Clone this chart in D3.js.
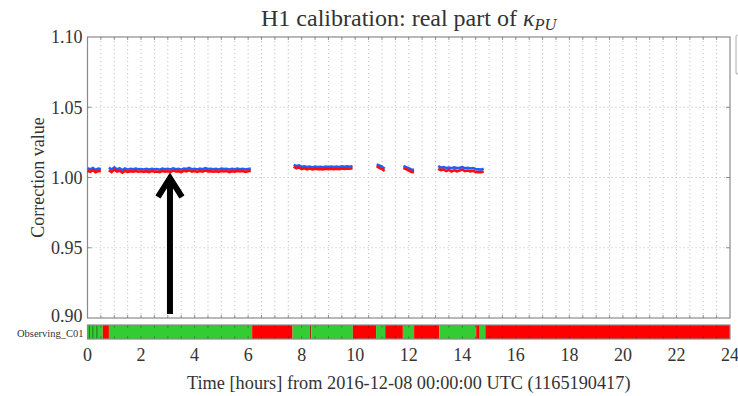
<!DOCTYPE html>
<html><head><meta charset="utf-8">
<script src="https://cdn.jsdelivr.net/npm/d3@7"></script>
<style>body{margin:0;background:#fff}svg{display:block}</style>
</head><body>
<svg id="c" width="738" height="396"></svg>
<script>
// ---- data ----
const xTicks = [0,2,4,6,8,10,12,14,16,18,20,22,24];
const yTicks = [0.90,0.95,1.00,1.05,1.10];
const yTickLabels = ["0.90","0.95","1.00","1.05","1.10"];
const sampleStep = 0.1; // hours between samples, starting at 0 h
const blueValues = [
 1.0066,1.0058,1.0068,1.0054,1.0064,1.0060, null,null,
 1.0070,1.0056,1.0072,1.0058,1.0066,1.0052,1.0064,1.0056,1.0062,1.0059,
 1.0063,1.0058,1.0060,1.0057,1.0061,1.0056,1.0062,1.0059,1.0060,1.0055,
 1.0063,1.0058,1.0061,1.0057,1.0065,1.0059,1.0062,1.0056,1.0064,1.0060,
 1.0068,1.0058,1.0062,1.0057,1.0063,1.0059,1.0066,1.0060,1.0062,1.0058,
 1.0061,1.0057,1.0063,1.0060,1.0062,1.0056,1.0061,1.0058,1.0064,1.0059,
 1.0062,1.0057,1.0060,1.0063,
 null,null,null,null,null,null,null,null,null,null,null,null,null,null,null,
 1.0090,1.0082,1.0086,1.0076,1.0080,1.0074,1.0078,1.0072,1.0077,1.0074,1.0076,1.0073,
 1.0077,1.0075,1.0078,1.0074,1.0077,1.0075,1.0079,1.0076,1.0080,1.0077,1.0081,
 null,null,null,null,null,null,null,null,
 1.0092,1.0085,1.0078,1.0062,
 null,null,null,null,null,null,
 1.0082,1.0074,1.0066,1.0056,1.0054,
 null,null,null,null,null,null,null,null,
 1.0082,1.0070,1.0074,1.0068,1.0071,1.0066,1.0072,1.0067,1.0070,1.0074,1.0066,1.0069,
 1.0064,1.0067,1.0060,1.0058,1.0056,1.0062
];
const redValues = [
 1.0048,1.0040,1.0052,1.0038,1.0046,1.0044, null,null,
 1.0052,1.0038,1.0056,1.0042,1.0048,1.0034,1.0047,1.0040,1.0045,1.0042,
 1.0046,1.0041,1.0044,1.0040,1.0045,1.0039,1.0046,1.0042,1.0043,1.0038,
 1.0047,1.0042,1.0044,1.0040,1.0049,1.0043,1.0045,1.0039,1.0048,1.0044,
 1.0051,1.0042,1.0046,1.0040,1.0047,1.0042,1.0049,1.0044,1.0045,1.0041,
 1.0045,1.0040,1.0047,1.0043,1.0046,1.0039,1.0045,1.0042,1.0047,1.0043,
 1.0046,1.0040,1.0044,1.0047,
 null,null,null,null,null,null,null,null,null,null,null,null,null,null,null,
 1.0077,1.0066,1.0072,1.0060,1.0066,1.0058,1.0064,1.0057,1.0062,1.0059,1.0061,1.0058,
 1.0062,1.0060,1.0063,1.0059,1.0062,1.0060,1.0064,1.0061,1.0065,1.0062,1.0066,
 null,null,null,null,null,null,null,null,
 1.0080,1.0068,1.0060,1.0046,
 null,null,null,null,null,null,
 1.0068,1.0060,1.0050,1.0040,1.0038,
 null,null,null,null,null,null,null,null,
 1.0062,1.0052,1.0057,1.0046,1.0054,1.0042,1.0052,1.0044,1.0050,1.0056,1.0046,1.0050,
 1.0044,1.0048,1.0040,1.0038,1.0037,1.0042
];
const statusStarts = [0,0.57,0.8,6.15,7.66,8.3,8.36,9.91,10.78,11.12,11.78,12.2,13.14,14.52,14.65,14.86];
const statusEnds   = [0.57,0.8,6.15,7.66,8.3,8.36,9.91,10.78,11.12,11.78,12.2,13.14,14.52,14.65,14.86,24];
const statusStates = ["on","off","on","off","on","flag","on","off","on","off","on","off","on","off","on","off"];
const statusMarks = [0.07,0.2,0.35];
const arrowHour = 3.08;

// ---- layout ----
const svg = d3.select("#c");
const L = 87.5, R = 730, T = 37, B = 318;
const x = d3.scaleLinear().domain([0,24]).range([L,R]);
const y = d3.scaleLinear().domain([0.90,1.10]).range([B,T]);
const serif = "'Liberation Serif','DejaVu Serif',serif";
const grey = "#8a8a8a";

// grid
const gridX = d3.range(1,48).map(d=>d*0.5);
svg.append("g").selectAll("line").data(gridX).join("line")
  .attr("x1",d=>x(d)).attr("x2",d=>x(d)).attr("y1",T).attr("y2",B)
  .attr("stroke","#c4c4c4").attr("stroke-width",1).attr("stroke-dasharray","1.2,2.8");
svg.append("g").selectAll("line").data([0.95,1.00,1.05]).join("line")
  .attr("x1",L).attr("x2",R).attr("y1",d=>y(d)).attr("y2",d=>y(d))
  .attr("stroke","#c4c4c4").attr("stroke-width",1).attr("stroke-dasharray","1.2,2.8");

// frame
svg.append("rect").attr("x",L).attr("y",T).attr("width",R-L).attr("height",B-T)
  .attr("fill","none").attr("stroke",grey).attr("stroke-width",1.2);

// ticks (inward)
const tickX = d3.range(1,48).map(d=>d*0.5);
const tg = svg.append("g").attr("stroke","#777").attr("stroke-width",0.8);
tickX.forEach(d=>{
  tg.append("line").attr("x1",x(d)).attr("x2",x(d)).attr("y1",B).attr("y2",B-3);
  tg.append("line").attr("x1",x(d)).attr("x2",x(d)).attr("y1",T).attr("y2",T+3);
});
[0.95,1.00,1.05].forEach(d=>{
  tg.append("line").attr("x1",L).attr("x2",L+4).attr("y1",y(d)).attr("y2",y(d));
  tg.append("line").attr("x1",R).attr("x2",R-4).attr("y1",y(d)).attr("y2",y(d));
});

// y tick labels
svg.append("g").selectAll("text").data(yTicks).join("text")
  .attr("x",L-5).attr("y",d=>y(d)).attr("dy",(d,i)=>i===0?"0.2em":"0.35em")
  .attr("text-anchor","end").attr("font-family",serif).attr("font-size",18)
  .attr("fill","#333").text((d,i)=>yTickLabels[i]);

// y label
svg.append("text").attr("transform",`translate(44,${(T+B)/2}) rotate(-90)`)
  .attr("text-anchor","middle").attr("font-family",serif).attr("font-size",18)
  .attr("fill","#333").text("Correction value");

// title
const title = svg.append("text").attr("x",(L+R)/2).attr("y",26)
  .attr("text-anchor","middle").attr("font-family",serif).attr("font-size",24).attr("fill","#333");
title.append("tspan").text("H1 calibration:  real part of ");
title.append("tspan").attr("font-style","italic").text("κ");
title.append("tspan").attr("font-style","italic").attr("font-size",16.5).attr("dy",4).text("PU");

// data lines
const hours = blueValues.map((v,i)=>i*sampleStep);
const line = d3.line().defined(d=>d[1]!=null).x(d=>x(d[0])).y(d=>y(d[1]));
svg.append("path").datum(hours.map((h,i)=>[h,blueValues[i]])).attr("d",line)
  .attr("fill","none").attr("stroke","#1f5fff").attr("stroke-width",2.6);
svg.append("path").datum(hours.map((h,i)=>[h,redValues[i]])).attr("d",line)
  .attr("fill","none").attr("stroke","#ff0d0d").attr("stroke-width",2.6);

// status bar
const sT = 325, sB = 339;
const col = {on:"#33cc33", off:"#ff0000", flag:"#a0281e"};
svg.append("g").selectAll("rect").data(statusStarts).join("rect")
  .attr("x",(d)=>x(d)).attr("y",sT)
  .attr("width",(d,i)=>x(statusEnds[i])-x(d)).attr("height",sB-sT)
  .attr("fill",(d,i)=>col[statusStates[i]]);
svg.append("g").selectAll("line").data(statusMarks).join("line")
  .attr("x1",d=>x(d)).attr("x2",d=>x(d)).attr("y1",sT).attr("y2",sB)
  .attr("stroke","#1a7a1a").attr("stroke-width",1);
const sg = svg.append("g").attr("stroke","rgba(0,0,0,0.35)").attr("stroke-width",1);
tickX.forEach(d=>{
  sg.append("line").attr("x1",x(d)).attr("x2",x(d)).attr("y1",sT).attr("y2",sT+2.5);
  sg.append("line").attr("x1",x(d)).attr("x2",x(d)).attr("y1",sB).attr("y2",sB-2.5);
});
svg.append("rect").attr("x",L).attr("y",sT).attr("width",R-L).attr("height",sB-sT)
  .attr("fill","none").attr("stroke",grey).attr("stroke-width",1.2);
svg.append("text").attr("x",L-4).attr("y",(sT+sB)/2+1).attr("dy","0.35em")
  .attr("text-anchor","end").attr("font-family",serif).attr("font-size",10.5)
  .attr("fill","#333").text("Observing_C01");

// x tick labels
svg.append("g").selectAll("text").data(xTicks).join("text")
  .attr("x",d=>x(d)).attr("y",355).attr("dy","0.35em")
  .attr("text-anchor","middle").attr("font-family",serif).attr("font-size",18)
  .attr("fill","#333").text(d=>d);

// x label
svg.append("text").attr("x",(L+R)/2).attr("y",383).attr("dy","0.35em")
  .attr("text-anchor","middle").attr("font-family",serif).attr("font-size",18.3)
  .attr("fill","#333").text("Time [hours] from 2016-12-08 00:00:00 UTC (1165190417)");

// arrow annotation
const ax = x(arrowHour);
svg.append("path")
  .attr("d",`M${ax},314 L${ax},178 M${ax-12},197 L${ax},178 L${ax+12},197`)
  .attr("fill","none").attr("stroke","#000").attr("stroke-width",6)
  .attr("stroke-linejoin","miter").attr("stroke-linecap","butt");

// cut-off legend box at right edge
svg.append("rect").attr("x",736).attr("y",35).attr("width",20).attr("height",39).attr("rx",2)
  .attr("fill","#fff").attr("stroke","#bbb").attr("stroke-width",1.2);
</script>
</body></html>
